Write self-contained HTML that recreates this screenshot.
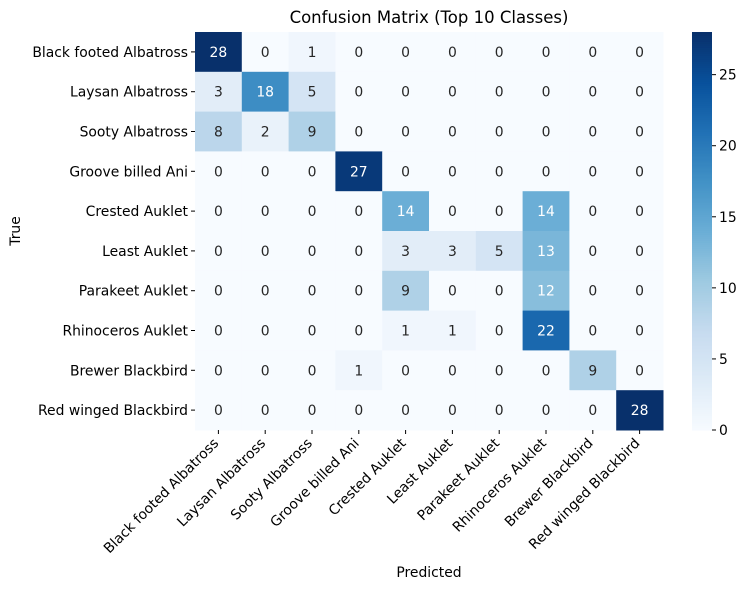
<!DOCTYPE html>
<html><head><style>body{margin:0;background:#fff}svg{display:block}text{font-family:"DejaVu Sans","Liberation Sans",sans-serif}</style></head>
<body>
<svg id="s" width="749" height="590" xmlns="http://www.w3.org/2000/svg"></svg>
<script>
const M=[[28,0,1,0,0,0,0,0,0,0],[3,18,5,0,0,0,0,0,0,0],[8,2,9,0,0,0,0,0,0,0],[0,0,0,27,0,0,0,0,0,0],[0,0,0,0,14,0,0,14,0,0],[0,0,0,0,3,3,5,13,0,0],[0,0,0,0,9,0,0,12,0,0],[0,0,0,0,1,1,0,22,0,0],[0,0,0,1,0,0,0,0,9,0],[0,0,0,0,0,0,0,0,0,28]];
const L=["Black footed Albatross","Laysan Albatross","Sooty Albatross","Groove billed Ani","Crested Auklet","Least Auklet","Parakeet Auklet","Rhinoceros Auklet","Brewer Blackbird","Red winged Blackbird"];
const st=["#f7fbff","#deebf7","#c6dbef","#9ecae1","#6baed6","#4292c6","#2171b5","#08519c","#08306b"].map(h=>[1,3,5].map(i=>parseInt(h.substr(i,2),16)));
function col(t){t=Math.max(0,Math.min(1,t))*8;let i=Math.min(7,Math.floor(t)),f=t-i;return "rgb("+st[i].map((c,k)=>Math.round(c+(st[i+1][k]-c)*f)).join(",")+")";}
const X0=195,Y0=32,W=46.8,H=39.8,FS=13.9;let s="";
s+=`<text x="429" y="23" font-size="16.5" text-anchor="middle" fill="#000">Confusion Matrix (Top 10 Classes)</text>`;
for(let r=0;r<10;r++)for(let c=0;c<10;c++){const v=M[r][c];s+=`<rect x="${X0+c*W}" y="${Y0+r*H}" width="${W+0.5}" height="${H+0.5}" fill="${col(v/28)}"/>`;
s+=`<text x="${X0+c*W+W/2}" y="${Y0+r*H+H/2+5}" font-size="${FS}" text-anchor="middle" fill="${v>=11?'#fff':'#262626'}">${v}</text>`;}
for(let i=0;i<10;i++){const y=Y0+i*H+H/2;s+=`<line x1="${X0-4}" x2="${X0}" y1="${y}" y2="${y}" stroke="#000"/><text x="${X0-7}" y="${y+5}" font-size="${FS}" text-anchor="end">${L[i]}</text>`;
const x=X0+i*W+W/2;s+=`<line x1="${x}" x2="${x}" y1="430" y2="434" stroke="#000"/><text transform="translate(${x+1},${444}) rotate(-45)" font-size="${FS}" text-anchor="end">${L[i]}</text>`;}
s+=`<text x="429" y="577" font-size="${FS}" text-anchor="middle">Predicted</text>`;
s+=`<text transform="translate(20,231) rotate(-90)" font-size="${FS}" text-anchor="middle">True</text>`;
for(let i=0;i<200;i++){const y0=32+i*398/200;s+=`<rect x="692" y="${y0}" width="20" height="2.5" fill="${col(1-i/200)}"/>`;}
for(let v=0;v<=25;v+=5){const y=430-v*398/28;s+=`<line x1="712" x2="716" y1="${y}" y2="${y}" stroke="#000"/><text x="719" y="${y+5}" font-size="${FS}">${v}</text>`;}
document.getElementById("s").innerHTML=s;
</script>
</body></html>
